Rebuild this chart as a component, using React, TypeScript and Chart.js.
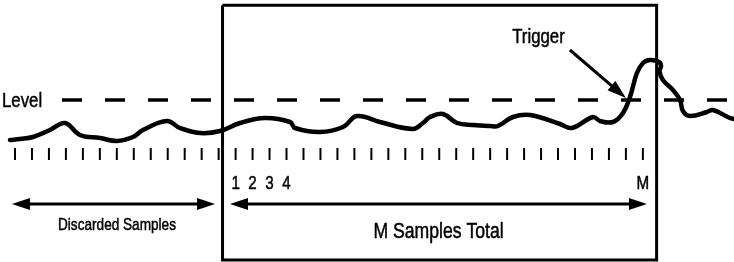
import React, { useEffect, useRef } from "react";
import { Chart, registerables } from "chart.js";

Chart.register(...registerables);

// x axis: sample index (tick i = sample slot i), y axis: signal amplitude (arbitrary units)
const X_RANGE = [-0.884, 42.37];
const Y_RANGE = [0, 26.2];

const WAVE_X = [
  -0.29, 0.29, 1.06, 2.06, 2.95, 3.83, 5.01, 6.01, 6.95, 7.54, 8.96, 9.72, 10.9, 12.08,
  13.26, 14.73, 16.21, 16.5, 17.97, 19.33, 20.15, 21.51, 23.45, 24.04, 24.46, 25.22, 26.05,
  26.99, 27.99, 28.46, 29.35, 30.35, 32.12, 32.82, 34.06, 34.47, 35.24, 35.83, 36.24, 36.65,
  37.01, 37.42, 37.95, 38.07, 37.98, 38.18, 38.77, 39.19, 39.36, 39.78, 40.78, 41.13, 42.13, 42.4,
];
const WAVE_Y = [
  12.2, 12.3, 12.5, 13.2, 13.9, 12.7, 12.4, 12.1, 12.5, 13.2, 14.1, 13.4, 12.9, 13.1,
  13.9, 14.4, 14.0, 13.4, 13.0, 13.5, 14.6, 14.0, 13.3, 13.9, 14.5, 14.8, 13.9,
  13.7, 13.6, 13.6, 14.5, 14.7, 13.8, 13.4, 14.5, 14.1, 14.0, 14.9, 16.5, 18.9,
  19.9, 20.2, 20.0, 19.6, 19.1, 18.2, 17.2, 16.2, 15.1, 14.6, 15.0, 15.2, 14.4, 14.3,
];

const LEVEL_VALUE = 16.2;
const LEVEL_X = [2.77, 42.4];

const SAMPLE_TICKS = [
  0, 1, 2, 3, 4, 5, 6, 7, 8, 9, 10, 11, 12, 13, 14, 15, 16, 17, 18, 19, 20, 21, 22, 23, 24, 25,
  26, 27, 28, 29, 30, 31, 32, 33, 34, 35, 36, 37,
];
const TICK_LEVEL = 10.8;

const BOX_X = [12.23, 37.81];
const BOX_Y = [0.2, 25.67];

const SAMPLE_LABELS = ["1", "2", "3", "4", "M"];
const SAMPLE_LABEL_X = [13, 14, 15, 16, 37];
const SAMPLE_LABEL_Y = 7.3;

const SPAN_Y = 5.8;
const DISCARDED_SPAN = [-0.18, 11.79];
const TOTAL_SPAN = [12.67, 37.24];

const TEXTS = ["Level", "Trigger", "Discarded Samples", "M Samples Total"];
const TEXT_X = [-0.766, 30.85, 6.01, 24.96];
const TEXT_Y = [15.5, 21.95, 3.2, 2.43];
const TEXT_SIZE = [21, 21, 17, 22];
const TEXT_ALIGN = ["left", "center", "center", "center"];

const TRIGGER_FROM = [32.7, 21.2];
const TRIGGER_TO = [36.0, 16.4];

const FONT = "'Liberation Sans', Arial, sans-serif";
const NARROW = 0.8;
const INK = "#000";

function arrowHead(ctx: CanvasRenderingContext2D, fx: number, fy: number, tx: number, ty: number, len: number, half: number) {
  const ang = Math.atan2(ty - fy, tx - fx);
  const bx = tx - len * Math.cos(ang);
  const by = ty - len * Math.sin(ang);
  ctx.beginPath();
  ctx.moveTo(tx, ty);
  ctx.lineTo(bx + half * Math.sin(ang), by - half * Math.cos(ang));
  ctx.lineTo(bx - half * Math.sin(ang), by + half * Math.cos(ang));
  ctx.closePath();
  ctx.fill();
}

function narrowText(ctx: CanvasRenderingContext2D, text: string, x: number, y: number, align: string) {
  ctx.save();
  ctx.translate(x, y);
  ctx.scale(NARROW, 1);
  ctx.textAlign = align as CanvasTextAlign;
  ctx.textBaseline = "alphabetic";
  ctx.lineWidth = 0.5;
  ctx.lineJoin = "round";
  ctx.fillText(text, 0, 0);
  ctx.strokeText(text, 0, 0);
  ctx.restore();
}

const annotations = {
  id: "diagramAnnotations",
  afterDatasetsDraw(chart: any) {
    const { ctx } = chart;
    const xs = chart.scales.x;
    const ys = chart.scales.y;
    const px = (v: number) => xs.getPixelForValue(v);
    const py = (v: number) => ys.getPixelForValue(v);
    ctx.save();
    ctx.strokeStyle = INK;
    ctx.fillStyle = INK;

    // double-headed span arrows
    const spans = [DISCARDED_SPAN, TOTAL_SPAN];
    for (const s of spans) {
      const x1 = px(s[0]);
      const x2 = px(s[1]);
      const y = py(SPAN_Y);
      ctx.lineWidth = 3;
      ctx.beginPath();
      ctx.moveTo(x1 + 10, y);
      ctx.lineTo(x2 - 10, y);
      ctx.stroke();
      arrowHead(ctx, x2, y, x1, y, 18, 6);
      arrowHead(ctx, x1, y, x2, y, 18, 6);
    }

    // trigger arrow
    {
      const fx = px(TRIGGER_FROM[0]);
      const fy = py(TRIGGER_FROM[1]);
      const tx = px(TRIGGER_TO[0]);
      const ty = py(TRIGGER_TO[1]);
      const ang = Math.atan2(ty - fy, tx - fx);
      ctx.lineWidth = 3;
      ctx.beginPath();
      ctx.moveTo(fx, fy);
      ctx.lineTo(tx - 12 * Math.cos(ang), ty - 12 * Math.sin(ang));
      ctx.stroke();
      arrowHead(ctx, fx, fy, tx, ty, 19, 6);
    }

    // sample labels
    ctx.font = `19px ${FONT}`;
    SAMPLE_LABELS.forEach((t, i) => {
      narrowText(ctx, t, px(SAMPLE_LABEL_X[i]), py(SAMPLE_LABEL_Y), "center");
    });

    // other texts
    TEXTS.forEach((t, i) => {
      ctx.font = `${TEXT_SIZE[i]}px ${FONT}`;
      narrowText(ctx, t, px(TEXT_X[i]), py(TEXT_Y[i]), TEXT_ALIGN[i]);
    });
    ctx.restore();
  },
};

export default function App() {
  const ref = useRef<HTMLCanvasElement | null>(null);
  useEffect(() => {
    document.body.style.margin = "0";
    const canvas = ref.current;
    if (!canvas) return;
    const chart = new Chart(canvas, {
      type: "scatter",
      data: {
        datasets: [
          {
            label: "Box",
            data: [
              { x: BOX_X[0], y: BOX_Y[1] },
              { x: BOX_X[1], y: BOX_Y[1] },
              { x: BOX_X[1], y: BOX_Y[0] },
              { x: BOX_X[0], y: BOX_Y[0] },
              { x: BOX_X[0], y: BOX_Y[1] },
            ],
            showLine: true,
            borderColor: INK,
            borderWidth: 3,
            borderJoinStyle: "miter",
            pointRadius: 0,
            tension: 0,
            clip: false,
          } as any,
          {
            label: "Level",
            data: LEVEL_X.map((x) => ({ x, y: LEVEL_VALUE })),
            showLine: true,
            borderColor: INK,
            borderWidth: 3.5,
            borderDash: [20, 23],
            pointRadius: 0,
            clip: false,
          } as any,
          {
            label: "Sample ticks",
            data: SAMPLE_TICKS.map((x) => ({ x, y: TICK_LEVEL })),
            showLine: false,
            pointStyle: "line",
            rotation: 90,
            pointRadius: 6,
            borderColor: INK,
            borderWidth: 2,
            clip: false,
          } as any,
          {
            label: "Signal",
            data: WAVE_X.map((x, i) => ({ x, y: WAVE_Y[i] })),
            showLine: true,
            borderColor: INK,
            borderWidth: 4.5,
            borderCapStyle: "round",
            borderJoinStyle: "round",
            pointRadius: 0,
            tension: 0.4,
            clip: false,
          } as any,
        ],
      },
      options: {
        animation: false,
        responsive: false,
        devicePixelRatio: 1,
        layout: { padding: 0, autoPadding: false },
        plugins: { legend: { display: false }, tooltip: { enabled: false } },
        events: [],
        scales: {
          x: { type: "linear", display: false, min: X_RANGE[0], max: X_RANGE[1] },
          y: { type: "linear", display: false, min: Y_RANGE[0], max: Y_RANGE[1] },
        },
      },
      plugins: [annotations],
    });
    return () => chart.destroy();
  }, []);
  return (
    <div style={{ width: 734, height: 262, background: "#fff" }}>
      <canvas ref={ref} width={734} height={262} style={{ display: "block" }} />
    </div>
  );
}
